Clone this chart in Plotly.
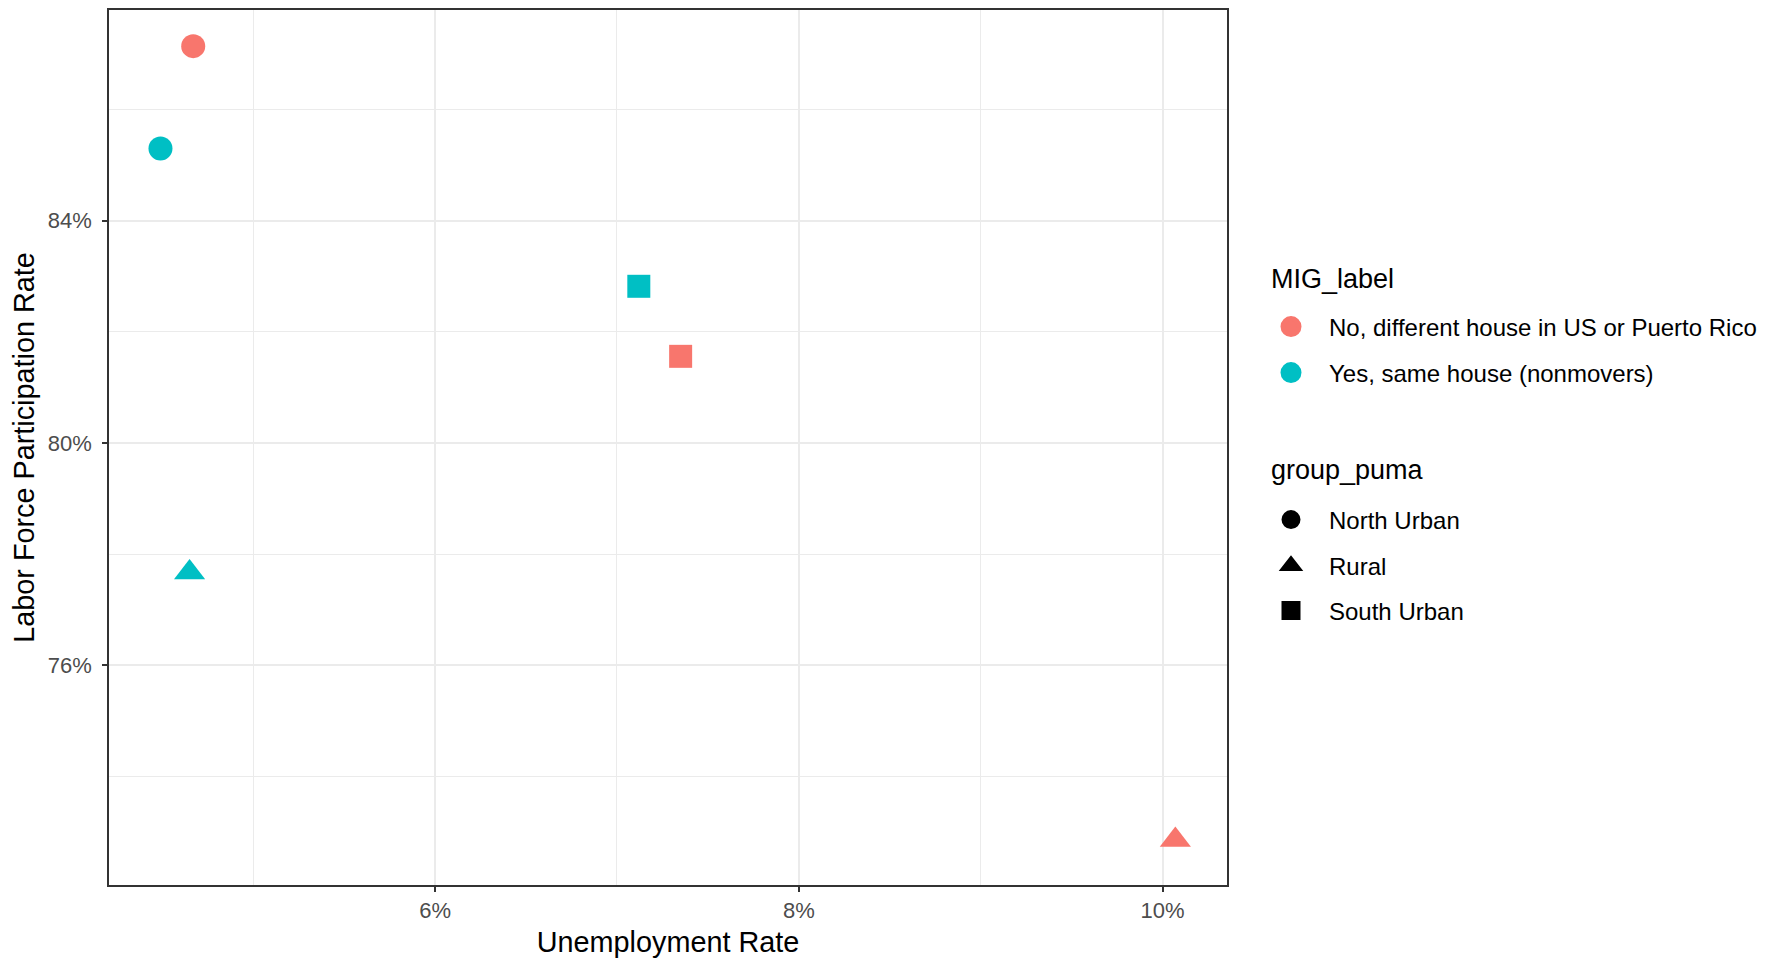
import plotly.graph_objects as go

# Data (fractions)
mig_labels = ["No, different house in US or Puerto Rico", "Yes, same house (nonmovers)"]
mig_colors = ["#F8766D", "#00BFC4"]
puma_groups = ["North Urban", "Rural", "South Urban"]
puma_symbols = ["circle", "triangle-up", "square"]

# rows: (mig index, puma index)
point_mig = [0, 0, 0, 1, 1, 1]
point_puma = [0, 1, 2, 0, 1, 2]
unemp = [0.0467, 0.1007, 0.0735, 0.0449, 0.0465, 0.0712]
lfpr = [0.8714, 0.7286, 0.8156, 0.8530, 0.7767, 0.8282]

x_range = [0.04207, 0.10354]
y_range = [0.7205, 0.8779]

marker_sizes = {"circle": 24, "triangle-up": 27, "square": 23}

FONT = "Liberation Sans, Arial, sans-serif"
W, H = 1769, 952          # page body has an 8px margin
ML, MR, MT, MB = 101, 550, 0, 75

fig = go.Figure()

# data traces
for m in range(len(mig_labels)):
    for p in range(len(puma_groups)):
        xs = [unemp[i] for i in range(len(unemp)) if point_mig[i] == m and point_puma[i] == p]
        ys = [lfpr[i] for i in range(len(lfpr)) if point_mig[i] == m and point_puma[i] == p]
        fig.add_trace(go.Scatter(
            x=xs, y=ys, mode="markers", showlegend=False,
            marker=dict(color=mig_colors[m], symbol=puma_symbols[p],
                        size=marker_sizes[puma_symbols[p]], line=dict(width=0)),
            hovertemplate=f"{mig_labels[m]}<br>{puma_groups[p]}<br>%{{x:.1%}}, %{{y:.1%}}<extra></extra>",
        ))

# legend entry positions (screen px, centre y)
mig_item_y = [327, 373]
puma_item_y = [520, 566, 611]
legend_marker_x = 1291
item_w = 66

def cont_y(screen_y):
    return 1 - (screen_y - 8) / H

legend_x = (legend_marker_x - 8 - (item_w / 2 + 5)) / W

legend_font = dict(family=FONT, size=24, color="black")
layout_legends = {}
k = 1
for m in range(len(mig_labels)):
    name = "legend" if k == 1 else f"legend{k}"
    fig.add_trace(go.Scatter(
        x=[None], y=[None], mode="markers", name=mig_labels[m], legend=name,
        marker=dict(color=mig_colors[m], symbol="circle", size=16,
                    line=dict(width=5, color=mig_colors[m])),
    ))
    layout_legends[name] = dict(
        font=legend_font, xref="container", yref="container",
        x=legend_x, y=cont_y(mig_item_y[m]), xanchor="left", yanchor="middle",
        bgcolor="rgba(0,0,0,0)", itemsizing="trace", itemwidth=item_w,
    )
    k += 1
for p in range(len(puma_groups)):
    name = f"legend{k}"
    fig.add_trace(go.Scatter(
        x=[None], y=[None], mode="markers", name=puma_groups[p], legend=name,
        marker=dict(color="black", symbol=puma_symbols[p], size=16,
                    line=dict(width=3, color="black")),
    ))
    layout_legends[name] = dict(
        font=legend_font, xref="container", yref="container",
        x=legend_x, y=cont_y(puma_item_y[p]), xanchor="left", yanchor="middle",
        bgcolor="rgba(0,0,0,0)", itemsizing="trace", itemwidth=item_w,
    )
    k += 1

axis_common = dict(
    showline=True, mirror=True, linecolor="#333333", linewidth=1.5,
    ticks="outside", ticklen=5, tickwidth=1.5, tickcolor="#333333",
    showgrid=True, gridcolor="#EBEBEB", gridwidth=1.6,
    zeroline=False, tickformat=".0%",
    tickfont=dict(family=FONT, size=22, color="#4D4D4D"),
    title_font=dict(family=FONT, size=28.8, color="black"),
)

fig.update_xaxes(
    range=x_range, tick0=0.0, dtick=0.02,
    minor=dict(dtick=0.01, tick0=0.0, showgrid=True, gridcolor="#EBEBEB", gridwidth=1, ticks=""),
    title=dict(text="Unemployment Rate", standoff=10),
    **axis_common,
)
fig.update_yaxes(
    range=y_range, tick0=0.0, dtick=0.04,
    minor=dict(dtick=0.02, tick0=0.0, showgrid=True, gridcolor="#EBEBEB", gridwidth=1, ticks=""),
    title=dict(text="Labor Force Participation Rate", standoff=10),
    ticklabelstandoff=6,
    **axis_common,
)

# legend titles
plot_h = H - MT - MB
plot_w = W - ML - MR
title_x = (1269 - 8 - ML) / plot_w
legend_title_font = dict(family=FONT, size=27, color="black")
for txt, sy in [("MIG_label", 278), ("group_puma", 469)]:
    fig.add_annotation(
        text=txt, xref="paper", yref="paper",
        x=title_x, y=1 - (sy - 8 - MT) / plot_h,
        xanchor="left", yanchor="middle", showarrow=False,
        font=legend_title_font,
    )

fig.update_layout(
    width=W, height=H,
    paper_bgcolor="white", plot_bgcolor="white",
    margin=dict(l=ML, r=MR, t=MT, b=MB),
    **layout_legends,
)

fig.write_html("out.html")
